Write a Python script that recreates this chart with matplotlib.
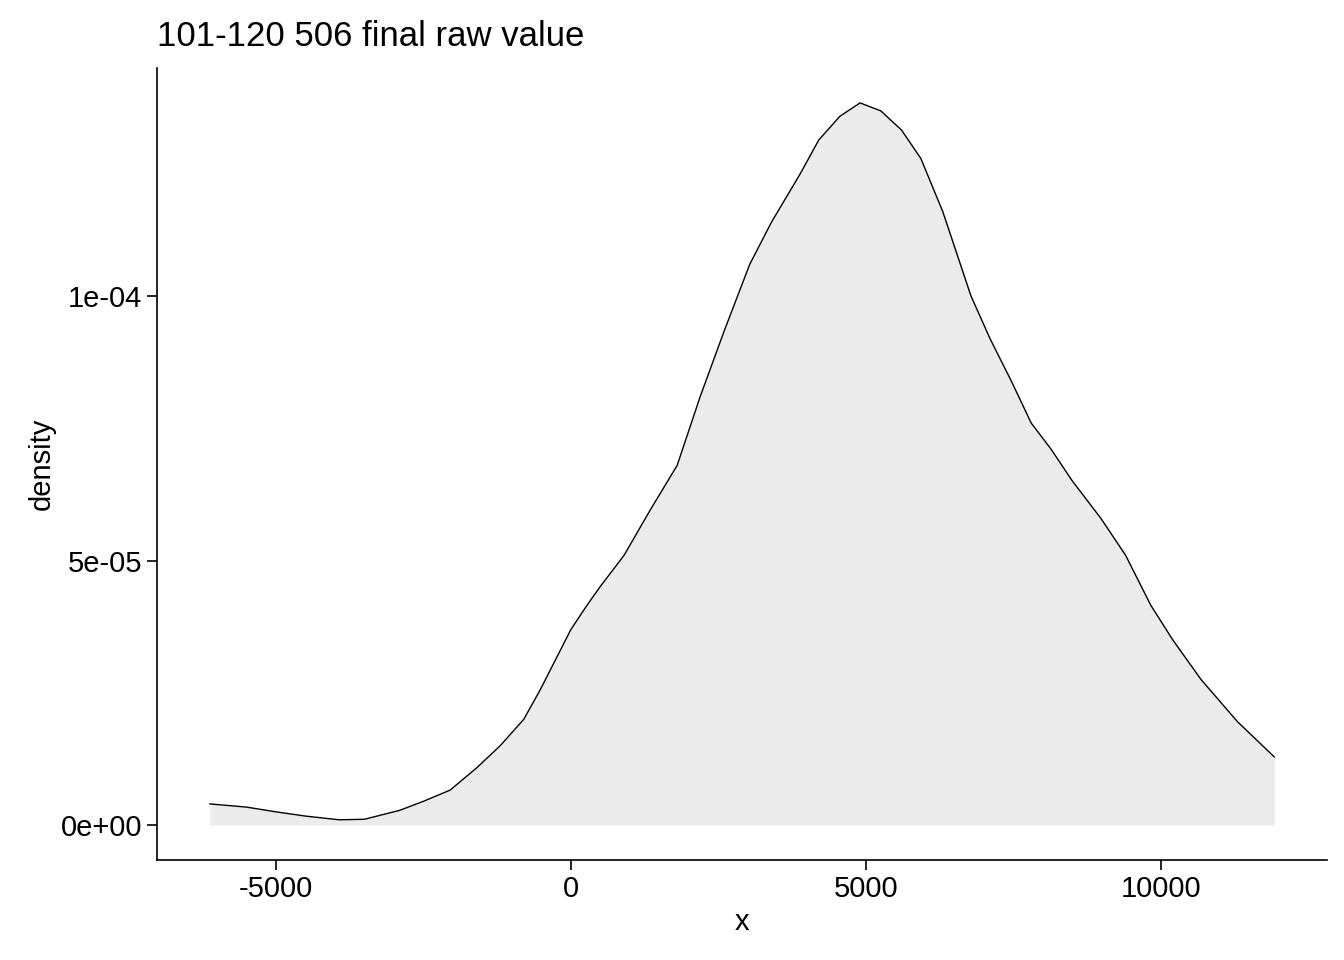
import numpy as np
import matplotlib.pyplot as plt

x = [-6120, -5500, -5000, -4500, -3930, -3500, -2900, -2500, -2050, -1600, -1200,
     -800, -525, 0, 250, 490, 900, 1340, 1800, 2190, 2600, 3030, 3400, 3880, 4200,
     4560, 4900, 5250, 5600, 5930, 6300, 6780, 7100, 7460, 7800, 8140, 8500, 8980,
     9400, 9830, 10200, 10680, 11300, 11920]
density = [0.40e-5, 0.34e-5, 0.25e-5, 0.17e-5, 0.10e-5, 0.11e-5, 0.28e-5, 0.45e-5,
           0.66e-5, 1.08e-5, 1.50e-5, 2.0e-5, 2.55e-5, 3.70e-5, 4.12e-5, 4.50e-5,
           5.1e-5, 5.95e-5, 6.8e-5, 8.10e-5, 9.35e-5, 10.6e-5, 11.4e-5, 12.3e-5,
           12.95e-5, 13.4e-5, 13.65e-5, 13.5e-5, 13.14e-5, 12.6e-5, 11.6e-5, 10.0e-5,
           9.2e-5, 8.4e-5, 7.6e-5, 7.1e-5, 6.5e-5, 5.8e-5, 5.1e-5, 4.15e-5, 3.5e-5,
           2.75e-5, 1.95e-5, 1.29e-5]

plt.rcParams['font.family'] = ['Liberation Sans', 'DejaVu Sans']
fig = plt.figure(figsize=(13.44, 9.6), dpi=100)
ax = fig.add_axes([157/1344, 1 - 860/960, 1170/1344, 792/960])

ax.fill_between(x, density, 0, color='#EBEBEB', linewidth=0)
ax.plot(x, density, color='black', linewidth=1)

ax.set_xlim(-7017, 12814)
ax.set_ylim(-0.66e-5, 14.31e-5)
ax.set_xticks([-5000, 0, 5000, 10000])
ax.set_xticklabels(['-5000', '0', '5000', '10000'])
ax.set_yticks([0, 5e-5, 1e-4])
ax.set_yticklabels(['0e+00', '5e-05', '1e-04'])
ax.tick_params(labelsize=21, width=1.2, length=7, colors='black')
for s in ['top', 'right']:
    ax.spines[s].set_visible(False)
for s in ['left', 'bottom']:
    ax.spines[s].set_linewidth(1.2)
ax.set_xlabel('x', fontsize=21)
ax.set_ylabel('density', fontsize=21)
ax.set_title('101-120 506 final raw value', fontsize=25, loc='left', pad=16)

fig.savefig('out.png', dpi=100)
